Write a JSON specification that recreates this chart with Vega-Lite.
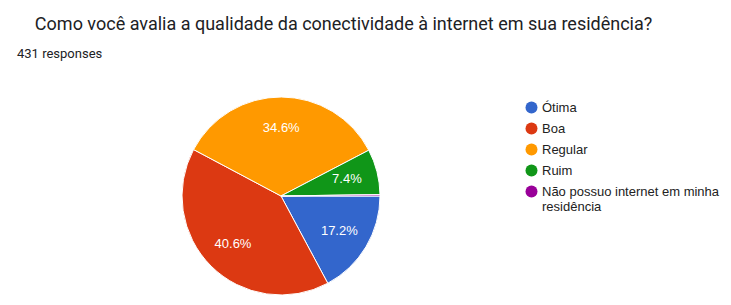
{
  "$schema": "https://vega.github.io/schema/vega-lite/v6.json",
  "autosize": "none",
  "width": 200,
  "height": 200,
  "padding": {"left": 181, "top": 96, "right": 350, "bottom": 9},
  "background": "white",
  "title": {
    "text": "\u200b\u00a0\u00a0\u00a0\u00a0Como você avalia a qualidade da conectividade à internet em sua residência?",
    "subtitle": "431 responses",
    "anchor": "start",
    "frame": "group",
    "orient": "top",
    "dx": -164,
    "offset": 34,
    "font": "Roboto",
    "fontSize": 18,
    "fontWeight": "normal",
    "color": "#202124",
    "subtitleFont": "Roboto",
    "subtitleFontSize": 13,
    "subtitleColor": "#202124",
    "subtitlePadding": 14
  },
  "data": {
    "values": [
      {"resposta": "Ótima", "n": 74, "ord": 1, "rotulo": "17.2%"},
      {"resposta": "Boa", "n": 175, "ord": 2, "rotulo": "40.6%"},
      {"resposta": "Regular", "n": 149, "ord": 3, "rotulo": "34.6%"},
      {"resposta": "Ruim", "n": 32, "ord": 4, "rotulo": "7.4%"},
      {"resposta": "Não possuo internet em minha residência", "n": 1, "ord": 5, "rotulo": ""}
    ]
  },
  "encoding": {
    "theta": {"field": "n", "type": "quantitative", "stack": true, "scale": {"range": [1.5708, 7.854]}},
    "order": {"field": "ord", "type": "quantitative"}
  },
  "layer": [
    {
      "mark": {"type": "arc", "outerRadius": 99, "stroke": "white", "strokeWidth": 1},
      "encoding": {
        "color": {
          "field": "resposta",
          "type": "nominal",
          "scale": {
            "domain": ["Ótima", "Boa", "Regular", "Ruim", "Não possuo internet em minha residência"],
            "range": ["#3366CC", "#DC3912", "#FF9900", "#109618", "#990099"]
          },
          "legend": {
            "title": null,
            "orient": "none",
            "legendX": 344,
            "legendY": 5,
            "symbolType": "circle",
            "symbolSize": 144,
            "symbolStrokeWidth": 0,
            "labelFont": "Liberation Sans",
            "labelFontSize": 13,
            "labelColor": "#222222",
            "labelOffset": 4,
            "labelLimit": 300,
            "rowPadding": 7,
            "labelExpr": "datum.label == 'Não possuo internet em minha residência' ? ['Não possuo internet em minha', 'residência'] : datum.label"
          }
        }
      }
    },
    {
      "mark": {"type": "text", "radius": 68, "font": "Liberation Sans", "fontSize": 13, "fill": "white"},
      "encoding": {
        "text": {"field": "rotulo"}
      }
    }
  ]
}
